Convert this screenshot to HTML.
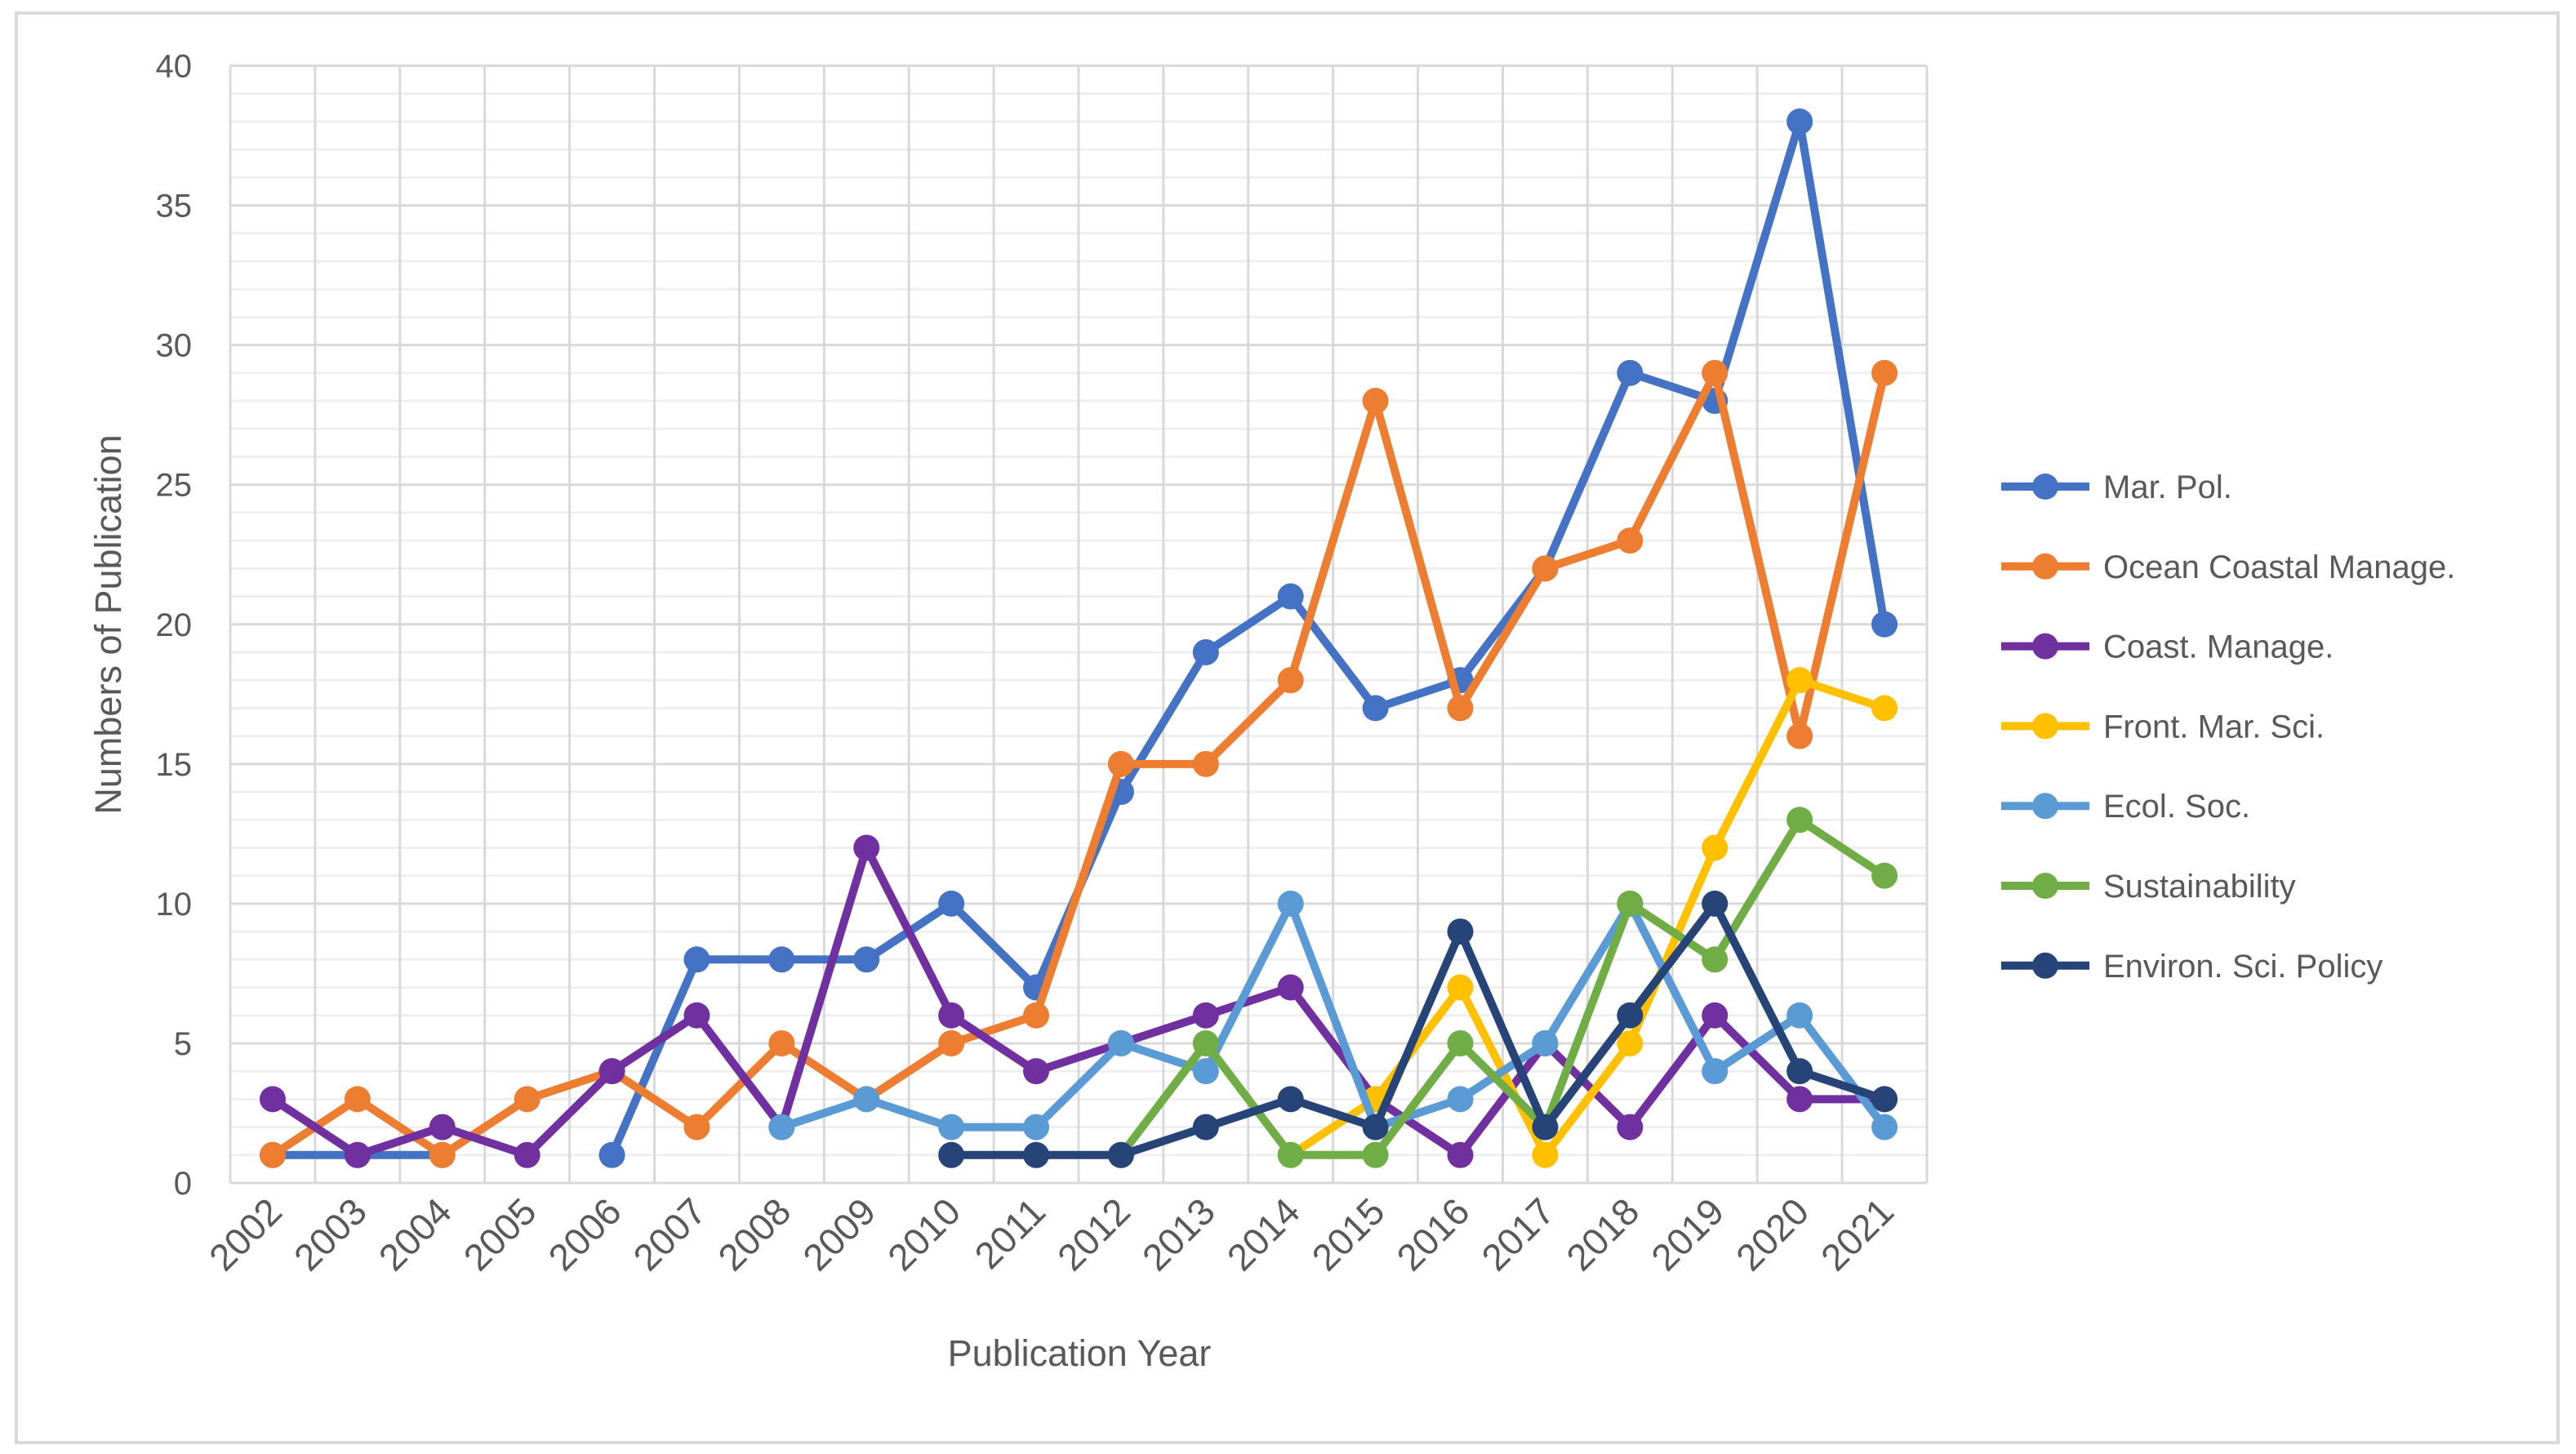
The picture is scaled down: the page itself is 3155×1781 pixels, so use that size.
<!DOCTYPE html>
<html><head><meta charset="utf-8"><style>
html,body{margin:0;padding:0;background:#fff;}
svg{display:block;font-family:"Liberation Sans",sans-serif;}
</style></head><body>
<svg id="chart" width="3155" height="1781" viewBox="0 0 3155 1781" xmlns="http://www.w3.org/2000/svg">
<rect x="20" y="16" width="3113" height="1751" fill="#fff" stroke="#d9d9d9" stroke-width="4"/>
<g id="grid"></g><g id="axes"></g><g id="series"></g><g id="legend"></g>
<text x="1322" y="1673" font-size="45" fill="#595959" text-anchor="middle">Publication Year</text>
<text x="0" y="0" font-size="45" fill="#595959" text-anchor="middle" transform="translate(148,765) rotate(-90)">Numbers of Publication</text>
</svg>
<script>
const years = ["2002","2003","2004","2005","2006","2007","2008","2009","2010","2011","2012","2013","2014","2015","2016","2017","2018","2019","2020","2021"];
const yTicks = [0,5,10,15,20,25,30,35,40];
const seriesNames = ["Mar. Pol.","Ocean Coastal Manage.","Coast. Manage.","Front. Mar. Sci.","Ecol. Soc.","Sustainability","Environ. Sci. Policy"];
const marPol = [1,1,1,null,1,8,8,8,10,7,14,19,21,17,18,22,29,28,38,20];
const oceanCoastal = [1,3,1,3,4,2,5,3,5,6,15,15,18,28,17,22,23,29,16,29];
const coastManage = [3,1,2,1,4,6,2,12,6,4,5,6,7,3,1,5,2,6,3,3];
const frontMarSci = [null,null,null,null,null,null,null,null,null,null,null,null,1,3,7,1,5,12,18,17];
const ecolSoc = [null,null,null,null,null,null,2,3,2,2,5,4,10,2,3,5,10,4,6,2];
const sustainability = [null,null,null,null,null,null,null,null,null,null,1,5,1,1,5,2,10,8,13,11];
const environSci = [null,null,null,null,null,null,null,null,1,1,1,2,3,2,9,2,6,10,4,3];
const allSeries = [marPol,oceanCoastal,coastManage,frontMarSci,ecolSoc,sustainability,environSci];
const colors = ["#4472C4","#ED7D31","#7030A0","#FFC000","#5B9BD5","#70AD47","#264478"];

const L=282,R=2360,T=80.5,B=1449,YMAX=40;
const band=(R-L)/years.length;
const xs=i=>L+band*(i+0.5);
const ys=v=>B-(v/YMAX)*(B-T);
const NS="http://www.w3.org/2000/svg";
function mk(tag,attrs,parent){const e=document.createElementNS(NS,tag);for(const k in attrs)e.setAttribute(k,attrs[k]);parent.appendChild(e);return e;}
const grid=document.getElementById('grid'),axes=document.getElementById('axes'),ser=document.getElementById('series'),leg=document.getElementById('legend');
for(let v=0;v<=YMAX;v++){
  const l=mk('line',{x1:L,x2:R,y1:ys(v),y2:ys(v),stroke:v%5===0?'#d9d9d9':'#efefef','stroke-width':3},grid);
  
  
}
for(let i=0;i<=years.length;i++){
  const l=mk('line',{x1:L+band*i,x2:L+band*i,y1:T,y2:B,stroke:'#d9d9d9','stroke-width':3},grid);
  
  
}
yTicks.forEach(v=>{
  const t=mk('text',{x:235,y:ys(v)+14,'font-size':40,fill:'#595959','text-anchor':'end'},axes);
  t.textContent=v;
  
  
});
years.forEach((y,i)=>{
  const x=xs(i)+14,yy=B+38;
  const t=mk('text',{x:0,y:0,'font-size':46,fill:'#595959','text-anchor':'end',transform:`translate(${x},${yy}) rotate(-45)`},axes);
  t.textContent=y;
  
  
});
allSeries.forEach((d,si)=>{
  const g=mk('g',{},ser);
  
  
  let segs=[],cur=[];
  d.forEach((v,i)=>{if(v===null){if(cur.length)segs.push(cur);cur=[];}else cur.push([xs(i),ys(v)]);});
  if(cur.length)segs.push(cur);
  segs.forEach(s=>{
    const p=mk('polyline',{points:s.map(q=>q.join(',')).join(' '),fill:'none',stroke:colors[si],'stroke-width':10,'stroke-linejoin':'round'},g);
    
    
  });
  d.forEach((v,i)=>{if(v===null)return;
    const c=mk('circle',{cx:xs(i),cy:ys(v),r:16,fill:colors[si]},g);
    
    
  });
});
seriesNames.forEach((n,i)=>{
  const y=596+i*97.8;
  const g=mk('g',{},leg);
  
  
  mk('line',{x1:2451,x2:2559,y1:y,y2:y,stroke:colors[i],'stroke-width':10},g);
  mk('circle',{cx:2505,cy:y,r:16,fill:colors[i]},g);
  const t=mk('text',{x:2576,y:y+14,'font-size':40,fill:'#595959'},g);
  t.textContent=n;
});
</script>
</body></html>
